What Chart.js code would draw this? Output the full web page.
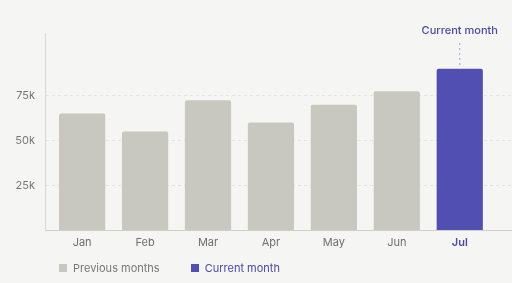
<!DOCTYPE html>
<html>
<head>
<meta charset="utf-8">
<script src="https://cdn.jsdelivr.net/npm/chart.js@4"></script>
<style>
  body { margin: 0; background: #f5f5f3; font-family: Inter, "Liberation Sans", sans-serif; }
  #wrap { position: relative; width: 512px; height: 283px; }
  #legend { position: absolute; left: 59px; top: 261px; display: flex; font-size: 11px; }
  #legend span.item { display: flex; align-items: center; margin-right: 31px; }
  #legend i { display: inline-block; width: 8px; height: 8px; margin-right: 6px; }
</style>
</head>
<body>
<div id="wrap">
  <canvas id="salesChart" width="512" height="283"></canvas>
  <div id="legend">
    <span class="item" style="color:#777"><i style="background:#c8c7c0"></i>Previous months</span>
    <span class="item" style="color:#4b48a6"><i style="background:#524fb2"></i>Current month</span>
  </div>
</div>
<script>
const months = ['Jan', 'Feb', 'Mar', 'Apr', 'May', 'Jun', 'Jul'];
const sales = [65000, 55000, 72500, 60000, 70000, 77500, 90000];
const currentIndex = 6;
const yTicks = [25000, 50000, 75000];
const yMax = 110000;

const grey = '#c8c7c0';
const purple = '#524fb2';

// small label + dashed guide above the current month bar
const currentMarker = {
  id: 'currentMarker',
  afterDatasetsDraw(chart) {
    const ctx = chart.ctx;
    const bar = chart.getDatasetMeta(0).data[currentIndex];
    const x = bar.x;
    ctx.save();
    ctx.strokeStyle = '#a3a1d8';
    ctx.lineWidth = 1;
    ctx.setLineDash([2, 3]);
    ctx.beginPath();
    ctx.moveTo(x, 43);
    ctx.lineTo(x, bar.y - 2);
    ctx.stroke();
    ctx.setLineDash([]);
    ctx.fillStyle = '#4b48a6';
    ctx.font = '500 11px Inter, "Liberation Sans", sans-serif';
    ctx.textAlign = 'center';
    ctx.textBaseline = 'middle';
    ctx.fillText('Current month', x, 31);
    ctx.restore();
  }
};

new Chart(document.getElementById('salesChart'), {
  type: 'bar',
  data: {
    labels: months,
    datasets: [{
      data: sales,
      backgroundColor: sales.map((v, i) => i === currentIndex ? purple : grey),
      borderRadius: { topLeft: 2, topRight: 2 },
      borderSkipped: 'bottom',
      categoryPercentage: 0.734,
      barPercentage: 1
    }]
  },
  options: {
    responsive: false,
    animation: false,
    layout: { padding: { top: 33, right: 0, bottom: 28, left: 0 } },
    plugins: { legend: { display: false }, tooltip: { enabled: false } },
    scales: {
      x: {
        grid: { display: false },
        border: { display: true, color: '#cfcfcb' },
        ticks: {
          padding: -2,
          color: c => c.index === currentIndex ? '#4b48a6' : '#6f6f6f',
          font: c => ({ family: 'Inter', size: 11, weight: c.index === currentIndex ? '600' : '400' })
        },
        afterFit: s => { s.height = 25; },
        afterBuildTicks: s => {
          // widen category spacing a bit so bars sit like the reference
          s._startValue = -0.59;
          s._valueRange = 7.42;
        }
      },
      y: {
        min: 0,
        max: yMax,
        grid: { color: '#e2e2de', drawTicks: false },
        border: { display: true, color: '#d8d8d4', dash: [3, 3] },
        ticks: {
          padding: 10,
          color: '#777',
          font: { family: 'Inter', size: 11 },
          callback: v => (v / 1000) + 'k'
        },
        afterBuildTicks: s => { s.ticks = yTicks.map(v => ({ value: v })); },
        afterFit: s => { s.width = 45; }
      }
    }
  },
  plugins: [currentMarker]
});
</script>
</body>
</html>
